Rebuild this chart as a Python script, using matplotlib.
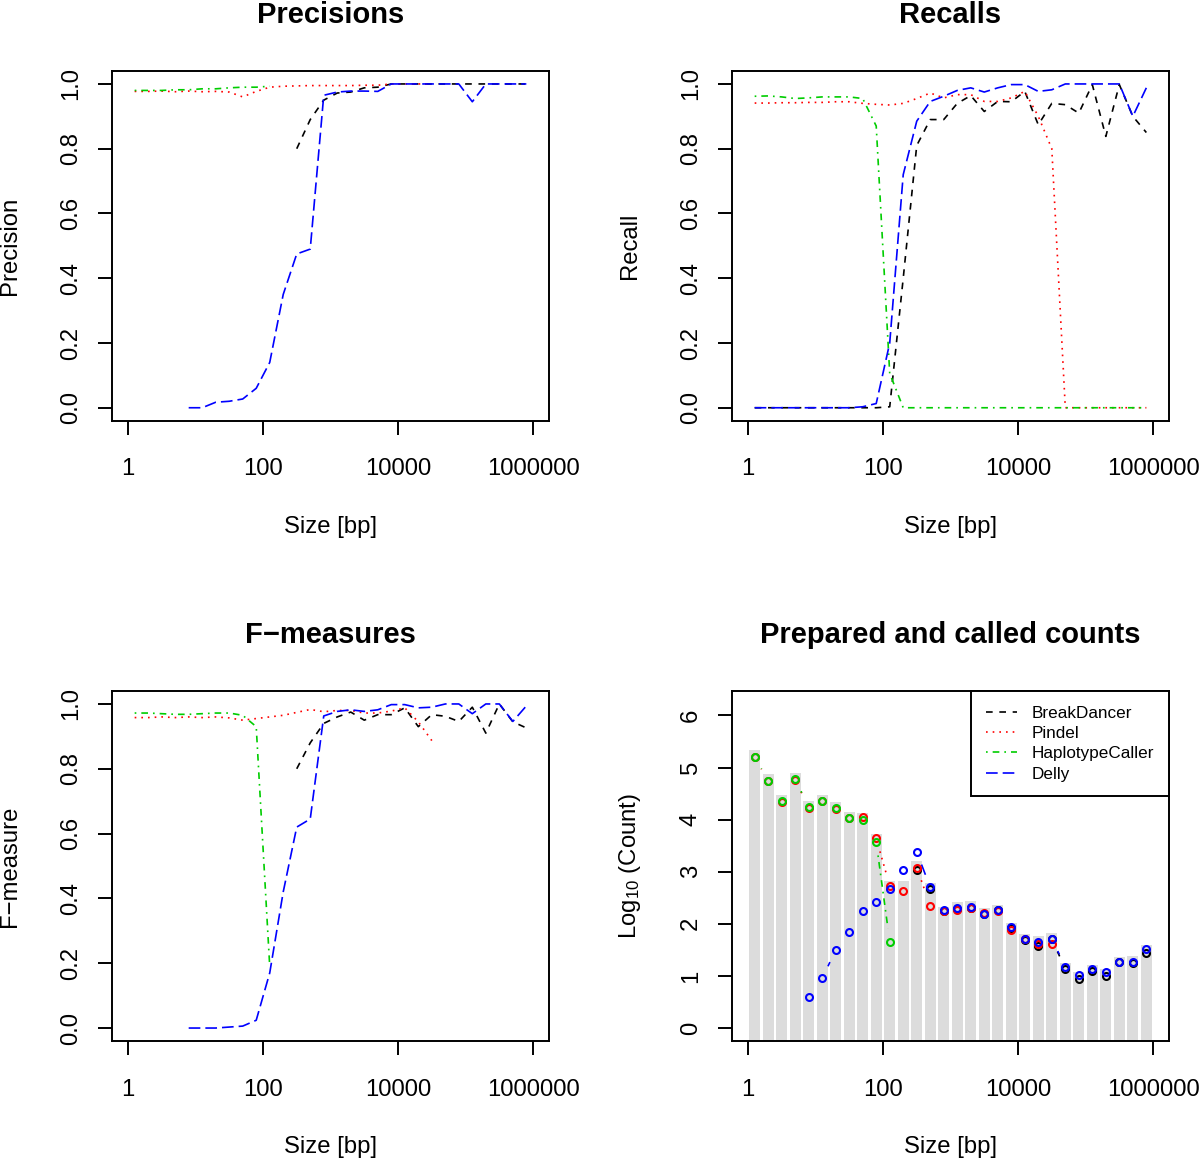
import numpy as np
import matplotlib
matplotlib.use("Agg")
import matplotlib.pyplot as plt
from matplotlib.ticker import FixedLocator, NullLocator, FixedFormatter
from matplotlib.lines import Line2D

plt.rcParams['font.family'] = ['Liberation Sans', 'DejaVu Sans']
plt.rcParams['mathtext.fontset'] = 'custom'
plt.rcParams['mathtext.rm'] = 'Liberation Sans'
plt.rcParams['mathtext.default'] = 'regular'

nan = np.nan

# bin centres (bp), one per 0.2 decade
sizes = [1.259, 1.995, 3.162, 5.012, 7.943, 12.59, 19.95, 31.62, 50.12, 79.43,
         125.9, 199.5, 316.2, 501.2, 794.3, 1259, 1995, 3162, 5012, 7943,
         12589, 19953, 31623, 50119, 79433, 125893, 199526, 316228, 501187, 794328]

tools = ["BreakDancer", "Pindel", "HaplotypeCaller", "Delly"]
colors = ["black", "red", "#00CD00", "blue"]
styles = [(0, (4, 4)), (0, (1, 3)), (0, (1, 3, 4, 3)), (0, (7, 3))]

# ---------------- Precision ----------------
prec_breakdancer = [nan]*12 + [0.80, 0.89, 0.95, 0.972, 0.975, 0.988, 0.99, 1.0, 1.0, 1.0,
                               1.0, 1.0, 1.0, 1.0, 1.0, 1.0, 1.0, 1.0]
prec_pindel = [0.977, 0.977, 0.978, 0.976, 0.978, 0.976, 0.977, 0.975, 0.96, 0.977,
               0.99, 0.993, 0.994, 0.995, 0.995, 0.995, 0.995, 0.996, 0.996, 1.0,
               1.0, 1.0, 1.0] + [nan]*7
prec_haplotype = [0.98, 0.98, 0.98, 0.982, 0.982, 0.985, 0.985, 0.988, 0.99, 0.99, 0.993] + [nan]*19
prec_delly = [nan]*4 + [0.0, 0.0, 0.017, 0.02, 0.027, 0.06, 0.14, 0.35, 0.475, 0.49,
                        0.965, 0.975, 0.978, 0.978, 0.977, 1.0, 1.0, 1.0, 1.0, 1.0,
                        1.0, 0.945, 1.0, 1.0, 1.0, 1.0]

# ---------------- Recall ----------------
rec_breakdancer = [0.0]*10 + [0.003, 0.40, 0.81, 0.89, 0.89, 0.94, 0.964, 0.915, 0.946, 0.945,
                              0.977, 0.874, 0.94, 0.936, 0.91, 0.998, 0.838, 0.998, 0.90, 0.85]
rec_pindel = [0.941, 0.941, 0.942, 0.942, 0.943, 0.943, 0.945, 0.945, 0.94, 0.937,
              0.935, 0.94, 0.955, 0.972, 0.957, 0.967, 0.967, 0.946, 0.946, 0.957,
              0.977, 0.90, 0.80, 0.0, 0.0, 0.0, 0.0, 0.0, 0.0, 0.0]
rec_haplotype = [0.962, 0.963, 0.96, 0.955, 0.957, 0.96, 0.96, 0.96, 0.955, 0.87,
                 0.106] + [0.0]*19
rec_delly = [0.0]*8 + [0.003, 0.013, 0.20, 0.72, 0.885, 0.946, 0.962, 0.98, 0.988, 0.975,
                       0.988, 0.998, 0.998, 0.977, 0.982, 1.0, 1.0, 1.0, 1.0, 1.0, 0.90, 0.988]

# ---------------- F-measure ----------------
f_breakdancer = [nan]*12 + [0.80, 0.88, 0.94, 0.96, 0.975, 0.95, 0.967, 0.967, 0.988, 0.93,
                            0.967, 0.962, 0.946, 0.99, 0.91, 1.0, 0.945, 0.926]
f_pindel = [0.958, 0.958, 0.96, 0.958, 0.96, 0.958, 0.96, 0.957, 0.95, 0.955,
            0.96, 0.965, 0.974, 0.983, 0.976, 0.98, 0.98, 0.972, 0.972, 0.978,
            0.988, 0.945, 0.887] + [nan]*7
f_haplotype = [0.972, 0.972, 0.97, 0.968, 0.968, 0.97, 0.972, 0.972, 0.965, 0.93, 0.19] + [nan]*19
f_delly = [nan]*4 + [0.0, 0.0, 0.0, 0.003, 0.006, 0.024, 0.17, 0.42, 0.62, 0.645,
                     0.963, 0.977, 0.982, 0.977, 0.982, 0.998, 0.998, 0.988, 0.99, 1.0,
                     1.0, 0.97, 1.0, 1.0, 0.946, 0.994]

# ---------------- Counts (log10) ----------------
prepared = [5.33, 4.88, 4.47, 4.90, 4.35, 4.47, 4.34, 4.15, 4.13, 3.73,
            2.83, 2.82, 3.20, 2.78, 2.33, 2.41, 2.43, 2.30, 2.36, 2.01,
            1.80, 1.77, 1.83, 1.24, 1.08, 1.21, 1.14, 1.37, 1.39, 1.59]
cnt_breakdancer = [nan]*12 + [3.04, 2.67, 2.25, 2.29, 2.31, 2.19, 2.26, 1.92, 1.69, 1.58,
                              1.70, 1.14, 0.94, 1.10, 1.00, 1.26, 1.25, 1.43]
cnt_pindel = [5.20, 4.74, 4.34, 4.77, 4.23, 4.35, 4.21, 4.04, 4.06, 3.64,
              2.73, 2.63, 3.08, 2.35, 2.24, 2.27, 2.31, 2.20, 2.24, 1.89,
              1.70, 1.61, 1.61] + [nan]*7
cnt_haplotype = [5.21, 4.75, 4.35, 4.78, 4.24, 4.36, 4.22, 4.04, 4.00, 3.57, 1.66] + [nan]*19
cnt_delly = [nan]*4 + [0.60, 0.95, 1.50, 1.85, 2.24, 2.41, 2.67, 3.03, 3.38, 2.70,
                       2.27, 2.31, 2.32, 2.19, 2.27, 1.93, 1.70, 1.66, 1.71, 1.18,
                       1.01, 1.14, 1.08, 1.26, 1.26, 1.52]

x_ticks = [1, 100, 10000, 1000000]
x_ticklabels = ["1", "100", "10000", "1000000"]
y_ticks_ratio = [0.0, 0.2, 0.4, 0.6, 0.8, 1.0]
y_ticks_count = [0, 1, 2, 3, 4, 5, 6]

W, H = 1200, 1158
fig = plt.figure(figsize=(W / 100, H / 100), dpi=100)

def px_axes(l, t, r, b):
    return fig.add_axes([l / W, 1 - b / H, (r - l) / W, (b - t) / H])

axP = px_axes(111.7, 71, 549.3, 420.7)
axR = px_axes(731.7, 71, 1169.3, 420.7)
axF = px_axes(111.7, 691, 549.3, 1041)
axC = px_axes(731.7, 691, 1169.3, 1041)

LW = 1.2
FRAME_LW = 1.4
FS = 17.2
TICKLEN = 10.1

def style_axes(ax, title, ylabel, yticks, ylim, yfmt):
    ax.set_xscale('log')
    ax.set_xlim(10 ** -0.24, 10 ** 6.24)
    ax.set_ylim(*ylim)
    ax.xaxis.set_major_locator(FixedLocator(x_ticks))
    ax.xaxis.set_major_formatter(FixedFormatter(x_ticklabels))
    ax.xaxis.set_minor_locator(NullLocator())
    ax.yaxis.set_major_locator(FixedLocator(yticks))
    ax.yaxis.set_major_formatter(FixedFormatter([yfmt.format(v) for v in yticks]))
    ax.yaxis.set_minor_locator(NullLocator())
    for s in ax.spines.values():
        s.set_linewidth(FRAME_LW)
    ax.tick_params(axis='both', direction='out', length=TICKLEN, width=FRAME_LW,
                   labelsize=FS, colors='black')
    ax.tick_params(axis='x', pad=17)
    ax.tick_params(axis='y', pad=11.4, labelrotation=90)
    for lbl in ax.get_yticklabels():
        lbl.set_va('center')
    ax.text(0.5, 1.137, title, transform=ax.transAxes, ha='center', va='baseline',
            fontsize=21, fontweight='bold')
    ax.text(0.5, -0.321, "Size [bp]", transform=ax.transAxes, ha='center',
            va='baseline', fontsize=FS)
    ax.text(-101.7 / 437.6, 0.5, ylabel, transform=ax.transAxes, rotation=90,
            ha='center', va='center', fontsize=FS)

ratio_lim = (-0.04, 1.04)
style_axes(axP, "Precisions", "Precision", y_ticks_ratio, ratio_lim, "{:.1f}")
style_axes(axR, "Recalls", "Recall", y_ticks_ratio, ratio_lim, "{:.1f}")
style_axes(axF, "F\u2212measures", "F\u2212measure", y_ticks_ratio, ratio_lim, "{:.1f}")
style_axes(axC, "Prepared and called counts", r"Log$_{10}$ (Count)", y_ticks_count,
           (-0.25, 6.47), "{:d}")

series = {
    axP: [prec_breakdancer, prec_pindel, prec_haplotype, prec_delly],
    axR: [rec_breakdancer, rec_pindel, rec_haplotype, rec_delly],
    axF: [f_breakdancer, f_pindel, f_haplotype, f_delly],
}
for ax, data in series.items():
    for vals, c, ls in zip(data, colors, styles):
        ax.plot(sizes, vals, color=c, linestyle=ls, linewidth=LW)

# counts panel: bars of prepared counts
xs = np.array(sizes)
half = 10 ** 0.082
left = xs / half
right = xs * half
ybot = axC.get_ylim()[0]
axC.bar(left, np.array(prepared) - ybot, width=right - left, bottom=ybot,
        align='edge', color='#DCDCDC', edgecolor='none', zorder=1)

# lines + points ("type b": segments with gaps around the points)
GAP = 13.5
counts = [cnt_breakdancer, cnt_pindel, cnt_haplotype, cnt_delly]
inv = axC.transData.inverted()
for vals, c, ls in zip(counts, colors, styles):
    v = np.array(vals, dtype=float)
    for i in range(len(v) - 1):
        if np.isnan(v[i]) or np.isnan(v[i + 1]):
            continue
        p0 = axC.transData.transform((xs[i], v[i]))
        p1 = axC.transData.transform((xs[i + 1], v[i + 1]))
        d = p1 - p0
        L = np.hypot(*d)
        if L <= 2 * GAP:
            continue
        u = d / L
        q0 = inv.transform(p0 + u * GAP)
        q1 = inv.transform(p1 - u * GAP)
        axC.add_line(Line2D([q0[0], q1[0]], [q0[1], q1[1]], color=c, linestyle=ls,
                            linewidth=LW, zorder=2))
    axC.plot(xs, v, linestyle='none', marker='o', markersize=5.0, markerfacecolor='none',
             markeredgecolor=c, markeredgewidth=1.5, zorder=3)

handles = [Line2D([], [], color=c, linestyle=ls, linewidth=LW) for c, ls in zip(colors, styles)]
leg = axC.legend(handles, tools, loc='upper right', bbox_to_anchor=(1, 1),
                 borderaxespad=0, fontsize=12.3, frameon=True, fancybox=False,
                 handlelength=1.8, handletextpad=0.9, labelspacing=0.31,
                 borderpad=0.86)
leg.get_frame().set_edgecolor('black')
leg.get_frame().set_linewidth(FRAME_LW)
leg.get_frame().set_alpha(1)
leg.set_zorder(5)

fig.savefig("out.png", dpi=100)
